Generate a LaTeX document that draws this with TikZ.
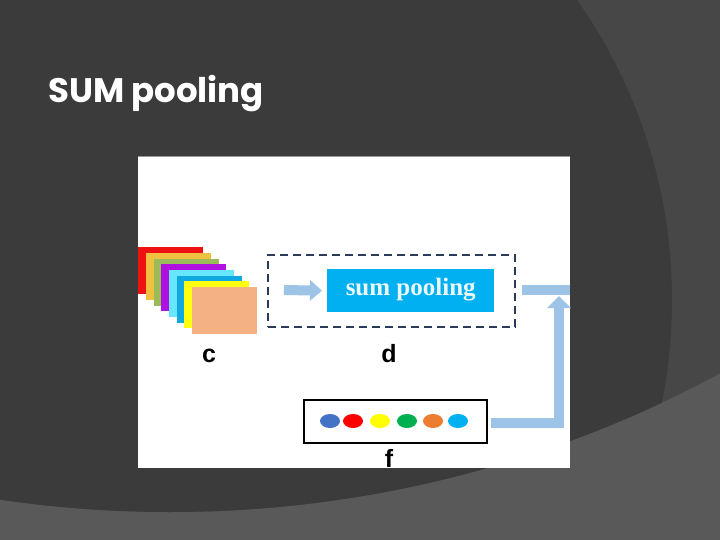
\documentclass[tikz,border=0pt]{standalone}
\usepackage{fontspec}
\setmainfont{Liberation Serif}
\newfontfamily\titlefont{Poppins}
\newfontfamily\labelfont{Liberation Sans}
\usetikzlibrary{arrows.meta,shapes.geometric}
\definecolor{bgdark}{HTML}{3B3B3B}
\definecolor{bgmid}{HTML}{474747}
\definecolor{bglight}{HTML}{595959}
\definecolor{arrowblue}{HTML}{9DC3E6}
\definecolor{poolblue}{HTML}{00B0F0}
\definecolor{dashnavy}{HTML}{2A3B5A}
\definecolor{fmred}{HTML}{EE1111}
\definecolor{fmorange}{HTML}{F0C040}
\definecolor{fmgreen}{HTML}{9BBB59}
\definecolor{fmpurple}{HTML}{B010E0}
\definecolor{fmcyan}{HTML}{66E6FF}
\definecolor{fmblue}{HTML}{10A8E0}
\definecolor{fmyellow}{HTML}{FFFF10}
\definecolor{fmpeach}{HTML}{F4B183}
\definecolor{dotblue}{HTML}{4472C4}
\definecolor{dotred}{HTML}{FF0000}
\definecolor{dotyellow}{HTML}{FFFF00}
\definecolor{dotgreen}{HTML}{00B050}
\definecolor{dotorange}{HTML}{ED7D31}
\definecolor{dotcyan}{HTML}{00B0F0}
\tikzset{
  fmap/.style={fill=#1, draw=none, minimum width=65pt, minimum height=47pt, anchor=north west, inner sep=0pt},
  dot/.style={ellipse, fill=#1, draw=none, minimum width=20pt, minimum height=14pt, inner sep=0pt},
  lbl/.style={font=\labelfont\bfseries\fontsize{25}{25}\selectfont, inner sep=0pt, anchor=base},
  fatarrow/.style={draw=arrowblue, line width=10pt},
}
\begin{document}
\begin{tikzpicture}[x=1pt,y=-1pt]
\useasboundingbox (0,0) rectangle (720,540);
% background
\fill[bglight] (0,0) rectangle (720,540);
\begin{scope}
  \clip (170,-646) circle (1158);
  \fill[bgmid] (0,0) rectangle (720,540);
  \clip (0,0) rectangle (720,540);
  \fill[bgdark] (151,300) circle (521);
\end{scope}
% title
\node[anchor=base west, inner sep=0pt, text=white, font=\titlefont\bfseries\fontsize{34}{34}\selectfont] (title) at (48,103) {SUM pooling};
% image
\fill[white] (138,157) rectangle (570,468);
\draw[gray!80, line width=1pt] (138,157) -- (570,157);
% feature maps
\foreach \c [count=\i from 0] in {fmred,fmorange,fmgreen,fmpurple,fmcyan,fmblue,fmyellow,fmpeach}{
  \node[fmap=\c] (fm\i) at ({138+7.7*\i},{247+5.7*\i}) {};
}
\node[lbl] (lc) at (209,362) {c};
% dashed box
\node[draw=dashnavy, line width=2pt, dash pattern=on 8pt off 5pt, minimum width=247pt, minimum height=72pt, anchor=north west, inner sep=0pt] (dbox) at (267,254) {};
\node[fill=poolblue, minimum width=167pt, minimum height=43pt, anchor=north west, inner sep=0pt] (pool) at (327,269) {};
\node[text=white!92!poolblue, font=\bfseries\fontsize{25}{25}\selectfont, inner sep=0pt] (pooltext) at ([yshift=1pt]pool.center) {sum pooling};
\coordinate (ain) at (284,290);
\draw[fatarrow, -{Triangle[width=20pt,length=12pt]}] (ain) -- (pool.west -| 322,0);
\node[lbl] (ld) at (389,362) {d};
% output bar
\coordinate (outa) at (522,290);
\coordinate (outb) at (570,290);
\draw[fatarrow] (outa) -- (outb);
% f box
\node[draw=black, line width=2pt, minimum width=183pt, minimum height=43pt, anchor=north west, inner sep=0pt] (fbox) at (303,399) {};
\foreach \c/\x [count=\i] in {dotblue/330,dotred/353,dotyellow/380,dotgreen/407,dotorange/433,dotcyan/458}{
  \node[dot=\c] (dot\i) at (\x,421) {};
}
\node[lbl] (lf) at (389,467) {f};
% feedback arrow
\coordinate (fbtip) at (559,296);
\draw[fatarrow, -{Triangle[width=23pt,length=12pt]}] ([xshift=3pt]fbox.east |- 0,423) -- (559,423) -- (fbtip);
\end{tikzpicture}
\end{document}
